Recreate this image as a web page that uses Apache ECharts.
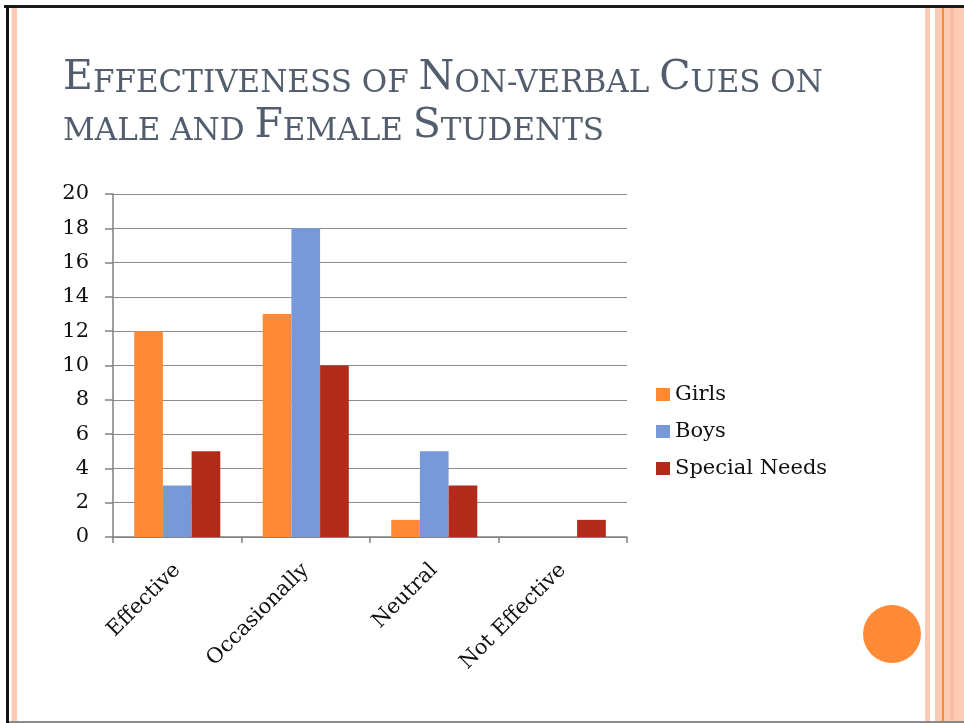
<!DOCTYPE html>
<html>
<head>
<meta charset="utf-8">
<title>Effectiveness of Non-verbal Cues</title>
<script src="https://cdn.jsdelivr.net/npm/echarts@6/dist/echarts.min.js"></script>
<style>
  html, body { margin: 0; padding: 0; background: #ffffff; }
  #chart { width: 964px; height: 723px; }
</style>
</head>
<body>
<div id="chart"></div>
<script>
// Chart data
const titleLines = ['Effectiveness of Non-verbal Cues on', 'male and Female Students'];
const categories = ['Effective', 'Occasionally', 'Neutral', 'Not Effective'];
const seriesNames = ['Girls', 'Boys', 'Special Needs'];
const girls = [12, 13, 1, 0];
const boys = [3, 18, 5, 0];
const specialNeeds = [5, 10, 3, 1];
const yTicks = { min: 0, max: 20, interval: 2 };

const serif = '"DejaVu Serif", "Liberation Serif", serif';
const colors = ['#FF8A36', '#7799D9', '#B22B1A'];
const titleColor = '#525D6E';

// Build small-caps rich text: capitals stay large, lowercase become small capitals
function smallCaps(str) {
  let out = '';
  let run = '';
  let runBig = null;
  for (const ch of str) {
    const big = ch >= 'A' && ch <= 'Z';
    if (runBig !== null && big !== runBig) {
      out += '{' + (runBig ? 'big' : 'sm') + '|' + run + '}';
      run = '';
    }
    runBig = big;
    run += ch.toUpperCase();
  }
  if (run) out += '{' + (runBig ? 'big' : 'sm') + '|' + run + '}';
  return out;
}

const titleRich = {
  big: { fontFamily: serif, fontSize: 41, lineHeight: 41, fill: titleColor, verticalAlign: 'bottom' },
  sm: { fontFamily: serif, fontSize: 31, lineHeight: 41, fill: titleColor, verticalAlign: 'bottom' }
};

const peach = '#FCCAB5';
const chart = echarts.init(document.getElementById('chart'), null, { renderer: 'canvas' });

chart.setOption({
  backgroundColor: '#ffffff',
  animation: false,
  graphic: [
    // slide frame
    { type: 'rect', shape: { x: 4, y: 5, width: 960, height: 3 }, style: { fill: '#1a1a1a' }, silent: true },
    { type: 'rect', shape: { x: 6, y: 5, width: 3, height: 718 }, style: { fill: '#111111' }, silent: true },
    { type: 'rect', shape: { x: 11, y: 8, width: 1, height: 715 }, style: { fill: '#FDE3D8' }, silent: true },
    { type: 'rect', shape: { x: 12, y: 8, width: 5, height: 715 }, style: { fill: peach }, silent: true },
    { type: 'rect', shape: { x: 925, y: 8, width: 5, height: 715 }, style: { fill: peach }, silent: true },
    { type: 'rect', shape: { x: 935, y: 8, width: 7, height: 715 }, style: { fill: peach }, silent: true },
    { type: 'rect', shape: { x: 942, y: 8, width: 2, height: 715 }, style: { fill: '#FF8A36' }, silent: true },
    { type: 'rect', shape: { x: 944, y: 8, width: 20, height: 715 }, style: { fill: peach }, silent: true },
    { type: 'rect', shape: { x: 950, y: 8, width: 4, height: 715 }, style: { fill: '#F9BFA6' }, silent: true },
    { type: 'rect', shape: { x: 9, y: 721, width: 955, height: 2 }, style: { fill: '#8a8a8a' }, silent: true },
    // decorative circle
    { type: 'circle', shape: { cx: 892, cy: 634, r: 29 }, style: { fill: '#FF8A36' }, silent: true },
    // title
    {
      type: 'text', left: 63, top: 58, silent: true,
      style: { text: smallCaps(titleLines[0]), rich: titleRich, fill: titleColor }
    },
    {
      type: 'text', left: 63, top: 106, silent: true,
      style: { text: smallCaps(titleLines[1]), rich: titleRich, fill: titleColor }
    }
  ],
  grid: { left: 113, right: 337, top: 194, bottom: 186, containLabel: false },
  legend: {
    orient: 'vertical',
    left: 651,
    top: 378,
    itemWidth: 14,
    itemHeight: 13,
    itemGap: 14,
    icon: 'rect',
    data: seriesNames,
    textStyle: { fontFamily: serif, fontSize: 21, color: '#111111', lineHeight: 23 }
  },
  xAxis: {
    type: 'category',
    data: categories,
    boundaryGap: true,
    axisLine: { lineStyle: { color: '#808080', width: 1.5 } },
    axisTick: { show: true, length: 6, lineStyle: { color: '#808080', width: 1.5 } },
    axisLabel: {
      rotate: 45,
      margin: 30,
      fontFamily: serif,
      fontSize: 21,
      color: '#111111',
      interval: 0
    }
  },
  yAxis: {
    type: 'value',
    min: yTicks.min,
    max: yTicks.max,
    interval: yTicks.interval,
    axisLine: { show: true, lineStyle: { color: '#808080', width: 1.5 } },
    axisTick: { show: true, length: 8, lineStyle: { color: '#808080', width: 1.5 } },
    splitLine: { show: true, lineStyle: { color: '#8c8c8c', width: 1.2 } },
    axisLabel: { fontFamily: serif, fontSize: 21, color: '#111111', margin: 24 }
  },
  series: [
    { name: seriesNames[0], type: 'bar', data: girls, itemStyle: { color: colors[0] }, barGap: '0%', barCategoryGap: '33%' },
    { name: seriesNames[1], type: 'bar', data: boys, itemStyle: { color: colors[1] }, barGap: '0%', barCategoryGap: '33%' },
    { name: seriesNames[2], type: 'bar', data: specialNeeds, itemStyle: { color: colors[2] }, barGap: '0%', barCategoryGap: '33%' }
  ]
});
</script>
</body>
</html>
